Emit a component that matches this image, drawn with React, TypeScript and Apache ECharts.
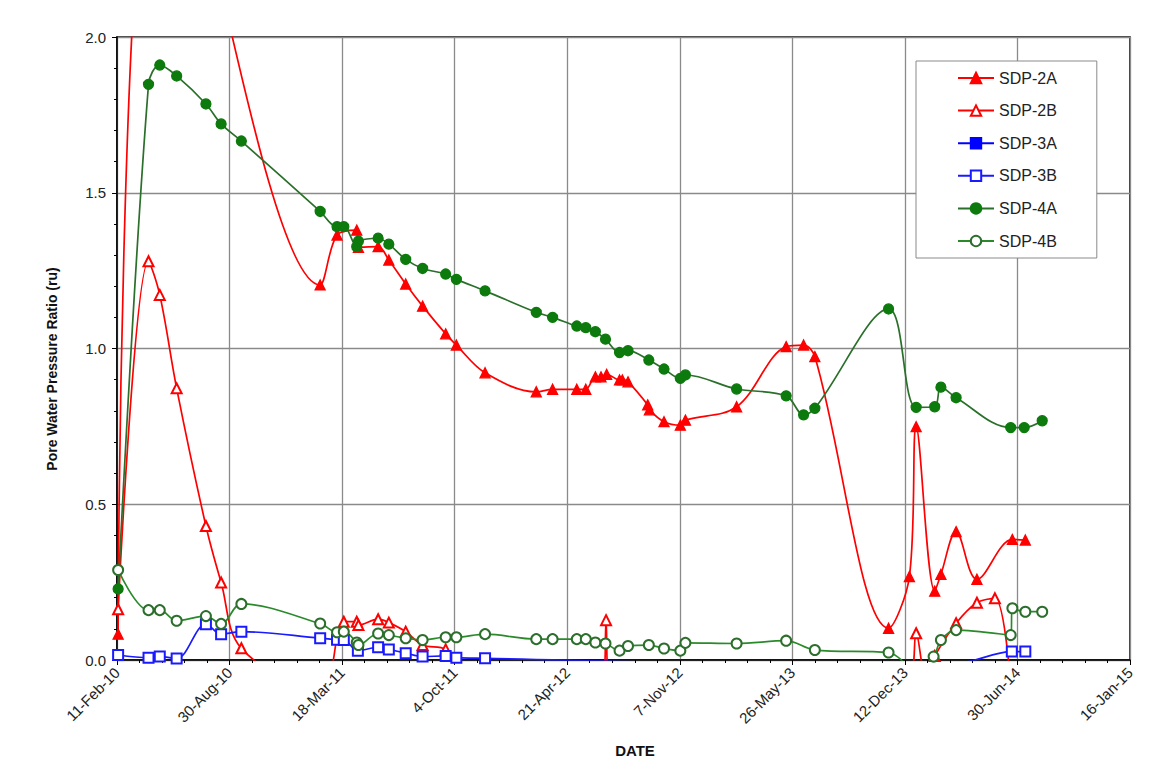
import React, { useEffect, useRef } from "react";
import * as echarts from "echarts";

// ---- axis definitions ----
const X_START = "2010-02-11";
const X_END = "2015-01-16";
const X_STEP_DAYS = 200;
const Y_MIN = 0;
const Y_MAX = 2.0;
const Y_STEP = 0.5;
const MONTHS = ["Jan", "Feb", "Mar", "Apr", "May", "Jun", "Jul", "Aug", "Sep", "Oct", "Nov", "Dec"];

const SERIES_NAMES = ["SDP-2A", "SDP-2B", "SDP-3A", "SDP-3B", "SDP-4A", "SDP-4B"];

// ---- data: [date, pore water pressure ratio] ----
const SDP_2A: [string, number][] = [
  ["2010-02-13", 0.083], ["2010-05-07", 2.8], ["2011-02-07", 1.204], ["2011-03-09", 1.364],
  ["2011-04-13", 1.38], ["2011-04-16", 1.325], ["2011-05-21", 1.327], ["2011-06-09", 1.284],
  ["2011-07-09", 1.207], ["2011-08-08", 1.136], ["2011-09-18", 1.047], ["2011-10-07", 1.011],
  ["2011-11-27", 0.922], ["2012-02-26", 0.861], ["2012-03-26", 0.869], ["2012-05-08", 0.869],
  ["2012-05-24", 0.869], ["2012-06-10", 0.909], ["2012-06-20", 0.909], ["2012-06-30", 0.917],
  ["2012-07-23", 0.899], ["2012-07-28", 0.899], ["2012-08-07", 0.893], ["2012-09-11", 0.819],
  ["2012-09-14", 0.803], ["2012-10-10", 0.765], ["2012-11-08", 0.754], ["2012-11-17", 0.77],
  ["2013-02-16", 0.813], ["2013-05-15", 1.006], ["2013-06-15", 1.011], ["2013-07-05", 0.974],
  ["2013-11-13", 0.102], ["2013-12-20", 0.268], ["2014-01-01", 0.749], ["2014-02-03", 0.221],
  ["2014-02-14", 0.275], ["2014-03-13", 0.412], ["2014-04-19", 0.259], ["2014-06-21", 0.387],
  ["2014-07-14", 0.385],
];

const SDP_2B: [string, number][] = [
  ["2010-02-13", 0.163], ["2010-04-08", 1.28], ["2010-04-28", 1.172], ["2010-05-28", 0.872],
  ["2010-07-19", 0.43], ["2010-08-15", 0.249], ["2010-09-20", 0.0375], ["2011-02-07", -0.1],
  ["2011-03-21", 0.123], ["2011-04-13", 0.123], ["2011-04-16", 0.112], ["2011-05-21", 0.131],
  ["2011-06-09", 0.12], ["2011-07-09", 0.091], ["2011-08-08", 0.048], ["2011-09-18", 0.034],
  ["2011-10-07", -0.02], ["2012-02-26", -0.05], ["2012-06-24", -0.05], ["2012-06-29", 0.128],
  ["2012-07-04", -0.05], ["2013-07-05", -0.05], ["2013-12-20", -0.05], ["2014-01-01", 0.086],
  ["2014-01-18", -0.05], ["2014-02-03", 0.013], ["2014-03-13", 0.118], ["2014-04-19", 0.184],
  ["2014-05-21", 0.198], ["2014-06-21", -0.15],
];

const SDP_3A: [string, number][] = [];

const SDP_3B: [string, number][] = [
  ["2010-02-13", 0.016], ["2010-04-08", 0.0075], ["2010-04-28", 0.011], ["2010-05-28", 0.005],
  ["2010-07-19", 0.115], ["2010-08-15", 0.083], ["2010-09-20", 0.091], ["2011-02-07", 0.07],
  ["2011-03-09", 0.065], ["2011-03-21", 0.064], ["2011-04-15", 0.03], ["2011-05-21", 0.041],
  ["2011-06-09", 0.034], ["2011-07-09", 0.022], ["2011-08-08", 0.011], ["2011-09-18", 0.013],
  ["2011-10-07", 0.0075], ["2011-11-27", 0.0055], ["2013-02-16", -0.01], ["2014-03-13", -0.01],
  ["2014-06-20", 0.027], ["2014-07-14", 0.027],
];

const SDP_4A: [string, number][] = [
  ["2010-02-13", 0.228], ["2010-04-08", 1.848], ["2010-04-28", 1.91], ["2010-05-28", 1.875],
  ["2010-07-19", 1.785], ["2010-08-15", 1.721], ["2010-09-20", 1.666], ["2011-02-07", 1.44],
  ["2011-03-09", 1.391], ["2011-03-21", 1.391], ["2011-04-13", 1.327], ["2011-04-16", 1.345],
  ["2011-05-21", 1.354], ["2011-06-09", 1.335], ["2011-07-09", 1.286], ["2011-08-08", 1.257],
  ["2011-09-18", 1.239], ["2011-10-07", 1.222], ["2011-11-27", 1.185], ["2012-02-26", 1.116],
  ["2012-03-26", 1.1], ["2012-05-08", 1.072], ["2012-05-24", 1.067], ["2012-06-10", 1.054],
  ["2012-06-28", 1.03], ["2012-07-23", 0.987], ["2012-08-07", 0.993], ["2012-09-13", 0.963],
  ["2012-10-10", 0.934], ["2012-11-08", 0.904], ["2012-11-17", 0.915], ["2013-02-16", 0.87],
  ["2013-05-15", 0.848], ["2013-06-15", 0.787], ["2013-07-05", 0.808], ["2013-11-13", 1.127],
  ["2014-01-01", 0.811], ["2014-02-03", 0.813], ["2014-02-14", 0.876], ["2014-03-13", 0.842],
  ["2014-06-18", 0.746], ["2014-07-12", 0.746], ["2014-08-13", 0.768],
];

const SDP_4B: [string, number][] = [
  ["2010-02-13", 0.289], ["2010-04-08", 0.16], ["2010-04-28", 0.16], ["2010-05-28", 0.126],
  ["2010-07-19", 0.141], ["2010-08-15", 0.116], ["2010-09-20", 0.18], ["2011-02-07", 0.117],
  ["2011-03-09", 0.089], ["2011-03-21", 0.091], ["2011-04-13", 0.056], ["2011-04-16", 0.048],
  ["2011-05-21", 0.085], ["2011-06-09", 0.08], ["2011-07-09", 0.07], ["2011-08-08", 0.064],
  ["2011-09-18", 0.073], ["2011-10-07", 0.073], ["2011-11-27", 0.083], ["2012-02-26", 0.067],
  ["2012-03-26", 0.067], ["2012-05-08", 0.067], ["2012-05-24", 0.067], ["2012-06-10", 0.056],
  ["2012-06-28", 0.053], ["2012-07-23", 0.03], ["2012-08-07", 0.045], ["2012-09-13", 0.048],
  ["2012-10-10", 0.037], ["2012-11-08", 0.03], ["2012-11-17", 0.055], ["2013-02-16", 0.053],
  ["2013-05-15", 0.062], ["2013-07-05", 0.032], ["2013-11-13", 0.024], ["2014-01-01", -0.03],
  ["2014-02-01", 0.011], ["2014-02-14", 0.064], ["2014-03-13", 0.096], ["2014-06-18", 0.08],
  ["2014-06-21", 0.166], ["2014-07-14", 0.155], ["2014-08-13", 0.155],
];

const DAY_MS = 86400000;
const toMs = (s: string) => Date.parse(s + "T00:00:00Z");
const fmtDate = (v: number) => {
  const d = new Date(v);
  return `${d.getUTCDate()}-${MONTHS[d.getUTCMonth()]}-${String(d.getUTCFullYear()).slice(2)}`;
};
const toPoints = (arr: [string, number][]) => arr.map(([d, v]) => [toMs(d), v]);

const FONT = "'Liberation Sans', Arial, sans-serif";

export default function App() {
  const ref = useRef<HTMLDivElement>(null);
  useEffect(() => {
    if (!ref.current) return;
    const chart = echarts.init(ref.current, undefined, { renderer: "svg" });

    const mk = (
      name: string,
      data: [string, number][],
      symbol: string,
      color: string,
      lineColor: string,
      size: number
    ) => ({
      name,
      type: "line",
      data: toPoints(data),
      smooth: 0.35,
      symbol,
      symbolSize: size,
      showSymbol: true,
      showAllSymbol: true,
      clip: true,
      itemStyle: { color, borderColor: color, borderWidth: 1.3 },
      lineStyle: { color: lineColor, width: 1.7 },
      emphasis: { disabled: true },
    });

    chart.setOption({
      animation: false,
      textStyle: { fontFamily: FONT },
      grid: {
        left: 117,
        right: 29,
        top: 37,
        bottom: 112,
        show: true,
        borderColor: "#000",
        borderWidth: 1.5,
        backgroundColor: "transparent",
      },
      legend: {
        orient: "vertical",
        left: 916,
        top: 61,
        data: SERIES_NAMES,
        itemWidth: 36,
        itemHeight: 13,
        itemGap: 16.6,
        padding: [9, 40, 9, 41],
        backgroundColor: "#fff",
        borderColor: "#8a8a8a",
        borderWidth: 1,
        textStyle: { fontSize: 16, color: "#222", fontFamily: FONT },
        selectedMode: false,
      },
      xAxis: {
        type: "value",
        min: toMs(X_START),
        max: toMs(X_END),
        interval: X_STEP_DAYS * DAY_MS,
        axisLine: { show: true, lineStyle: { color: "#000", width: 1.5 } },
        axisTick: { show: true, length: 5, lineStyle: { color: "#000" } },
        minorTick: { show: true, splitNumber: 5, length: 3, lineStyle: { color: "#000" } },
        splitLine: { show: true, lineStyle: { color: "#8a8a8a", width: 1.3 } },
        axisLabel: {
          formatter: (v: number) => fmtDate(v),
          rotate: 45,
          fontSize: 15,
          color: "#222",
          margin: 10,
          showMinLabel: true,
          showMaxLabel: true,
        },
      },
      yAxis: {
        type: "value",
        min: Y_MIN,
        max: Y_MAX,
        interval: Y_STEP,
        axisLine: { show: true, lineStyle: { color: "#000", width: 1.5 } },
        axisTick: { show: true, length: 5, lineStyle: { color: "#000" } },
        minorTick: { show: true, splitNumber: 5, length: 3, lineStyle: { color: "#000" } },
        splitLine: { show: true, lineStyle: { color: "#8a8a8a", width: 1.3 } },
        axisLabel: {
          formatter: (v: number) => v.toFixed(1),
          fontSize: 15,
          color: "#222",
          margin: 11,
        },
      },
      graphic: [
        {
          type: "text",
          x: 52,
          y: 369,
          rotation: Math.PI / 2,
          style: {
            text: "Pore Water Pressure Ratio (ru)",
            fontSize: 14,
            fontWeight: "bold",
            fontFamily: FONT,
            fill: "#111",
            align: "center",
            verticalAlign: "middle",
          },
        },
        {
          type: "text",
          x: 635,
          y: 750,
          style: {
            text: "DATE",
            fontSize: 15,
            fontWeight: "bold",
            fontFamily: FONT,
            fill: "#111",
            align: "center",
            verticalAlign: "middle",
          },
        },
      ],
      series: [
        mk("SDP-2A", SDP_2A, "triangle", "#ff0000", "#ff0000", 10),
        mk("SDP-2B", SDP_2B, "emptyTriangle", "#ff0000", "#ff0000", 10),
        mk("SDP-3A", SDP_3A, "rect", "#0000ff", "#0000ff", 10),
        mk("SDP-3B", SDP_3B, "emptyRect", "#1a1aff", "#1a1aff", 10),
        mk("SDP-4A", SDP_4A, "circle", "#0d7a0d", "#2a6f2a", 10),
        mk("SDP-4B", SDP_4B, "emptyCircle", "#2c6e2c", "#2a8a2a", 10),
      ],
    });
    return () => chart.dispose();
  }, []);

  return (
    <div
      ref={ref}
      style={{ position: "fixed", left: 0, top: 0, width: 1159, height: 772, background: "#fff" }}
    />
  );
}
